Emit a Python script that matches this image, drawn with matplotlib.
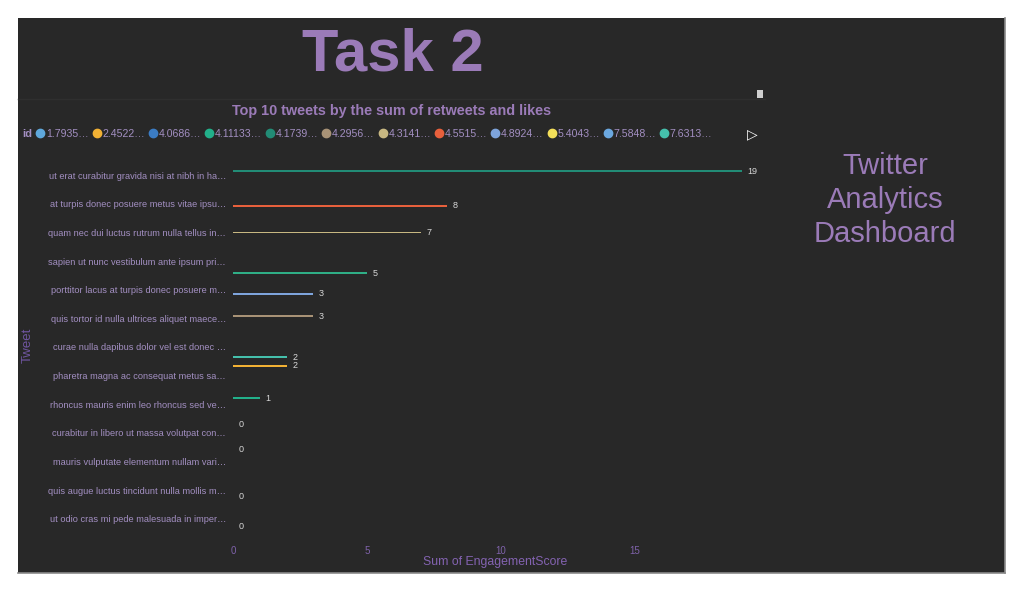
import matplotlib
matplotlib.use("Agg")
import matplotlib.pyplot as plt
from matplotlib.lines import Line2D
from matplotlib.patches import Rectangle

plt.rcParams['font.family'] = ['Liberation Sans', 'DejaVu Sans']

# ---------------- data ----------------
tweets = [
    "ut erat curabitur gravida nisi at nibh in ha…",
    "at turpis donec posuere metus vitae ipsu…",
    "quam nec dui luctus rutrum nulla tellus in…",
    "sapien ut nunc vestibulum ante ipsum pri…",
    "porttitor lacus at turpis donec posuere m…",
    "quis tortor id nulla ultrices aliquet maece…",
    "curae nulla dapibus dolor vel est donec …",
    "pharetra magna ac consequat metus sa…",
    "rhoncus mauris enim leo rhoncus sed ve…",
    "curabitur in libero ut massa volutpat con…",
    "mauris vulputate elementum nullam vari…",
    "quis augue luctus tincidunt nulla mollis m…",
    "ut odio cras mi pede malesuada in imper…",
]
engagement = [19, 8, 7, 5, 3, 3, 2, 2, 1, 0, 0, 0, 0]
# index of each tweet's id within the (sorted) id series
tweet_series = [4, 7, 6, 12, 8, 5, 11, 1, 3, 2, 0, 9, 10]

legend_ids = ["1.7935…", "2.4522…", "4.0686…", "4.11133…", "4.1739…", "4.2956…",
              "4.3141…", "4.5515…", "4.8924…", "5.4043…", "7.5848…", "7.6313…"]
series_colors = ["#5fa8dc", "#f2b134", "#3b7cc4", "#22b08a", "#228c76", "#a89276",
                 "#c8b882", "#e8603c", "#7ea4dc", "#f4df5a", "#6ba8e0", "#45c0ac",
                 "#2fae86"]
n_series = 13
x_ticks = [0, 5, 10, 15]

# ---------------- style ----------------
BG = "#282828"
PURPLE = "#9b7bb8"
LAV = "#a38fc2"
AXPURPLE = "#7f62aa"

W, H = 1024, 592
fig = plt.figure(figsize=(W / 100, H / 100), dpi=100)
fig.patch.set_facecolor("white")

def fx(px):
    return px / W

def fy(py):
    return 1 - py / H

# dark panel
fig.add_artist(Rectangle((fx(18), fy(573)), fx(1005) - fx(18), fy(18) - fy(573),
                         transform=fig.transFigure, facecolor=BG,
                         edgecolor="none", zorder=0))
fig.add_artist(Line2D([fx(1005), fx(1005)], [fy(573), fy(18)], transform=fig.transFigure,
                      color="#8a8a8a", lw=1.2, zorder=1))
fig.add_artist(Line2D([fx(18), fx(1005)], [fy(573), fy(573)], transform=fig.transFigure,
                      color="#8a8a8a", lw=1.2, zorder=1))
fig.add_artist(Line2D([fx(18), fx(765)], [fy(99), fy(99)], transform=fig.transFigure,
                      color="#2f2f2f", lw=1, zorder=1))
# small scroll handle
fig.add_artist(Rectangle((fx(757), fy(98)), fx(6), 8 / H, transform=fig.transFigure,
                         facecolor="#cfcfcf", edgecolor="none", zorder=2))

# titles
fig.text(fx(393), fy(55), "Task 2", color=PURPLE, fontsize=43, fontweight="bold",
         ha="center", va="center")
fig.text(fx(392), fy(111), "Top 10 tweets by the sum of retweets and likes", color=PURPLE,
         fontsize=10.4, fontweight="bold", ha="center", va="center")
fig.text(fx(885), fy(200), "Twitter\nAnalytics\nDashboard", color=PURPLE, fontsize=21,
         ha="center", va="center", linespacing=1.25)

# legend
fig.text(fx(22), fy(134), "id", color=LAV, fontsize=8, fontweight="bold",
         ha="left", va="center")
handles = [Line2D([], [], marker="o", linestyle="none", markersize=6,
                  markerfacecolor=c, markeredgecolor=c) for c in series_colors[:12]]
leg = fig.legend(handles, legend_ids, loc="center left",
                 bbox_to_anchor=(fx(37), fy(134)), ncol=12, frameon=False,
                 fontsize=7.6, handlelength=0.6, handletextpad=0.25,
                 columnspacing=0.45, borderpad=0, borderaxespad=0)
for t in leg.get_texts():
    t.set_color(LAV)
fig.text(fx(752), fy(134), "▷", color="white", fontsize=10, ha="center", va="center",
         family=["DejaVu Sans"])

# chart axes
ax = fig.add_axes([fx(233), fy(533), fx(742) - fx(233), fy(161) - fy(533)])
ax.set_facecolor("none")
slot = 0.07
for i, (val, sidx) in enumerate(zip(engagement, tweet_series)):
    ypos = i + (sidx - (n_series - 1) / 2) * slot
    ax.barh(ypos, val, height=slot * 0.95, color=series_colors[sidx], linewidth=0)
    ax.annotate(str(val), (val, ypos), xytext=(4, 0), textcoords="offset points",
                ha="left", va="center", fontsize=6.5, color="#d8d8d8",
                annotation_clip=False)

ax.set_xlim(0, 19)
ax.set_ylim(len(tweets) - 0.5, -0.5)
ax.set_yticks(range(len(tweets)))
ax.set_yticklabels(tweets)
ax.set_xticks(x_ticks)
ax.tick_params(axis="y", length=0, pad=5, labelsize=6.7, labelcolor=LAV)
ax.tick_params(axis="x", length=0, pad=9, labelsize=7, labelcolor=AXPURPLE)
for s in ax.spines.values():
    s.set_visible(False)
ax.grid(False)

fig.text(fx(495), fy(562), "Sum of EngagementScore", color="#8463b2", fontsize=8.8,
         ha="center", va="center")
fig.text(fx(28), fy(345), "Tweet", color="#6f55a0", fontsize=9.5, rotation=90,
         ha="center", va="center")

fig.savefig("out.png", dpi=100, facecolor=fig.get_facecolor())
